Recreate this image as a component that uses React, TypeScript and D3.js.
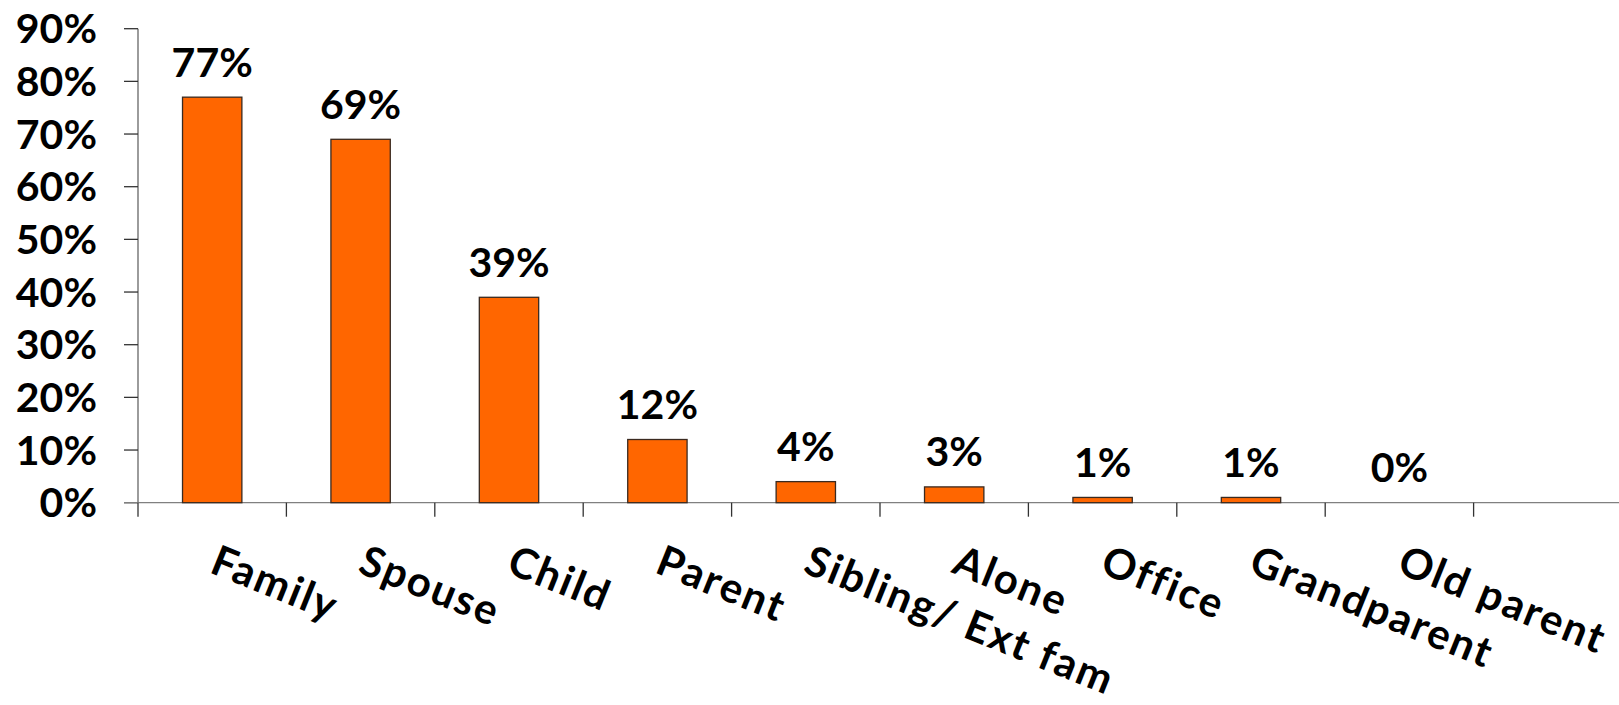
import React from "react";
import * as d3 from "d3";

const categories = ["Family", "Spouse", "Child", "Parent", "Sibling/ Ext fam", "Alone", "Office", "Grandparent", "Old parent"];
const values = [77, 69, 39, 12, 4, 3, 1, 1, 0];
const yTicks = [0, 10, 20, 30, 40, 50, 60, 70, 80, 90];

const W = 1619;
const H = 705;
const FONT = "Lato, 'DejaVu Sans', sans-serif";

export default function App() {
  const x0 = 138;
  const bandW = 148.4;
  const x = d3.scaleBand<string>().domain(categories).range([x0, x0 + bandW * categories.length]).paddingInner(0.6).paddingOuter(0.3);
  const xb = d3.scaleBand<string>().domain(categories).range([x0, x0 + bandW * categories.length]).padding(0);
  const y = d3.scaleLinear().domain([0, 90]).range([502.7, 28.7]);
  const base = y(0);

  return (
    <div style={{ position: "fixed", left: 0, top: 0 }}>
      <svg width={W} height={H} style={{ display: "block", background: "#fff" }}>
        {/* y axis */}
        <line x1={x0} x2={x0} y1={y(90)} y2={base} stroke="#666" strokeWidth={1.3} />
        {yTicks.map((t) => (
          <g key={t}>
            <line x1={x0 - 14} x2={x0} y1={y(t)} y2={y(t)} stroke="#333" strokeWidth={1.3} />
            <text x={97} y={y(t)} dy="0.36em" textAnchor="end" fontFamily={FONT} fontWeight={700} fontSize={41} fill="#000">
              {t}%
            </text>
          </g>
        ))}
        {/* x axis */}
        <line x1={x0 - 14} x2={W} y1={base} y2={base} stroke="#808080" strokeWidth={1.3} />
        {categories.map((c) => (
          <line key={"t" + c} x1={(xb(c) as number) + bandW} x2={(xb(c) as number) + bandW} y1={base} y2={base + 14} stroke="#333" strokeWidth={1.3} />
        ))}
        <line x1={x0} x2={x0} y1={base} y2={base + 14} stroke="#333" strokeWidth={1.3} />
        {/* bars */}
        {categories.map((c, i) => {
          const bx = x(c) as number;
          const top = y(values[i]);
          return (
            <g key={"b" + c}>
              {values[i] > 0 && (
                <rect x={bx} y={top} width={x.bandwidth()} height={base - top} fill="#FF6600" stroke="#3a2a20" strokeWidth={1.3} />
              )}
              <text x={bx + x.bandwidth() / 2} y={top - 20.5} textAnchor="middle" fontFamily={FONT} fontWeight={700} fontSize={41} fill="#000">
                {values[i]}%
              </text>
            </g>
          );
        })}
        {/* category labels */}
        {categories.map((c) => {
          const cx = (xb(c) as number) + bandW / 2 - 4;
          return (
            <text key={"l" + c} transform={`translate(${cx},${572}) rotate(22)`} textAnchor="start" fontFamily={FONT} fontWeight={700} fontSize={42} letterSpacing={2} fill="#000">
              {c}
            </text>
          );
        })}
      </svg>
    </div>
  );
}
